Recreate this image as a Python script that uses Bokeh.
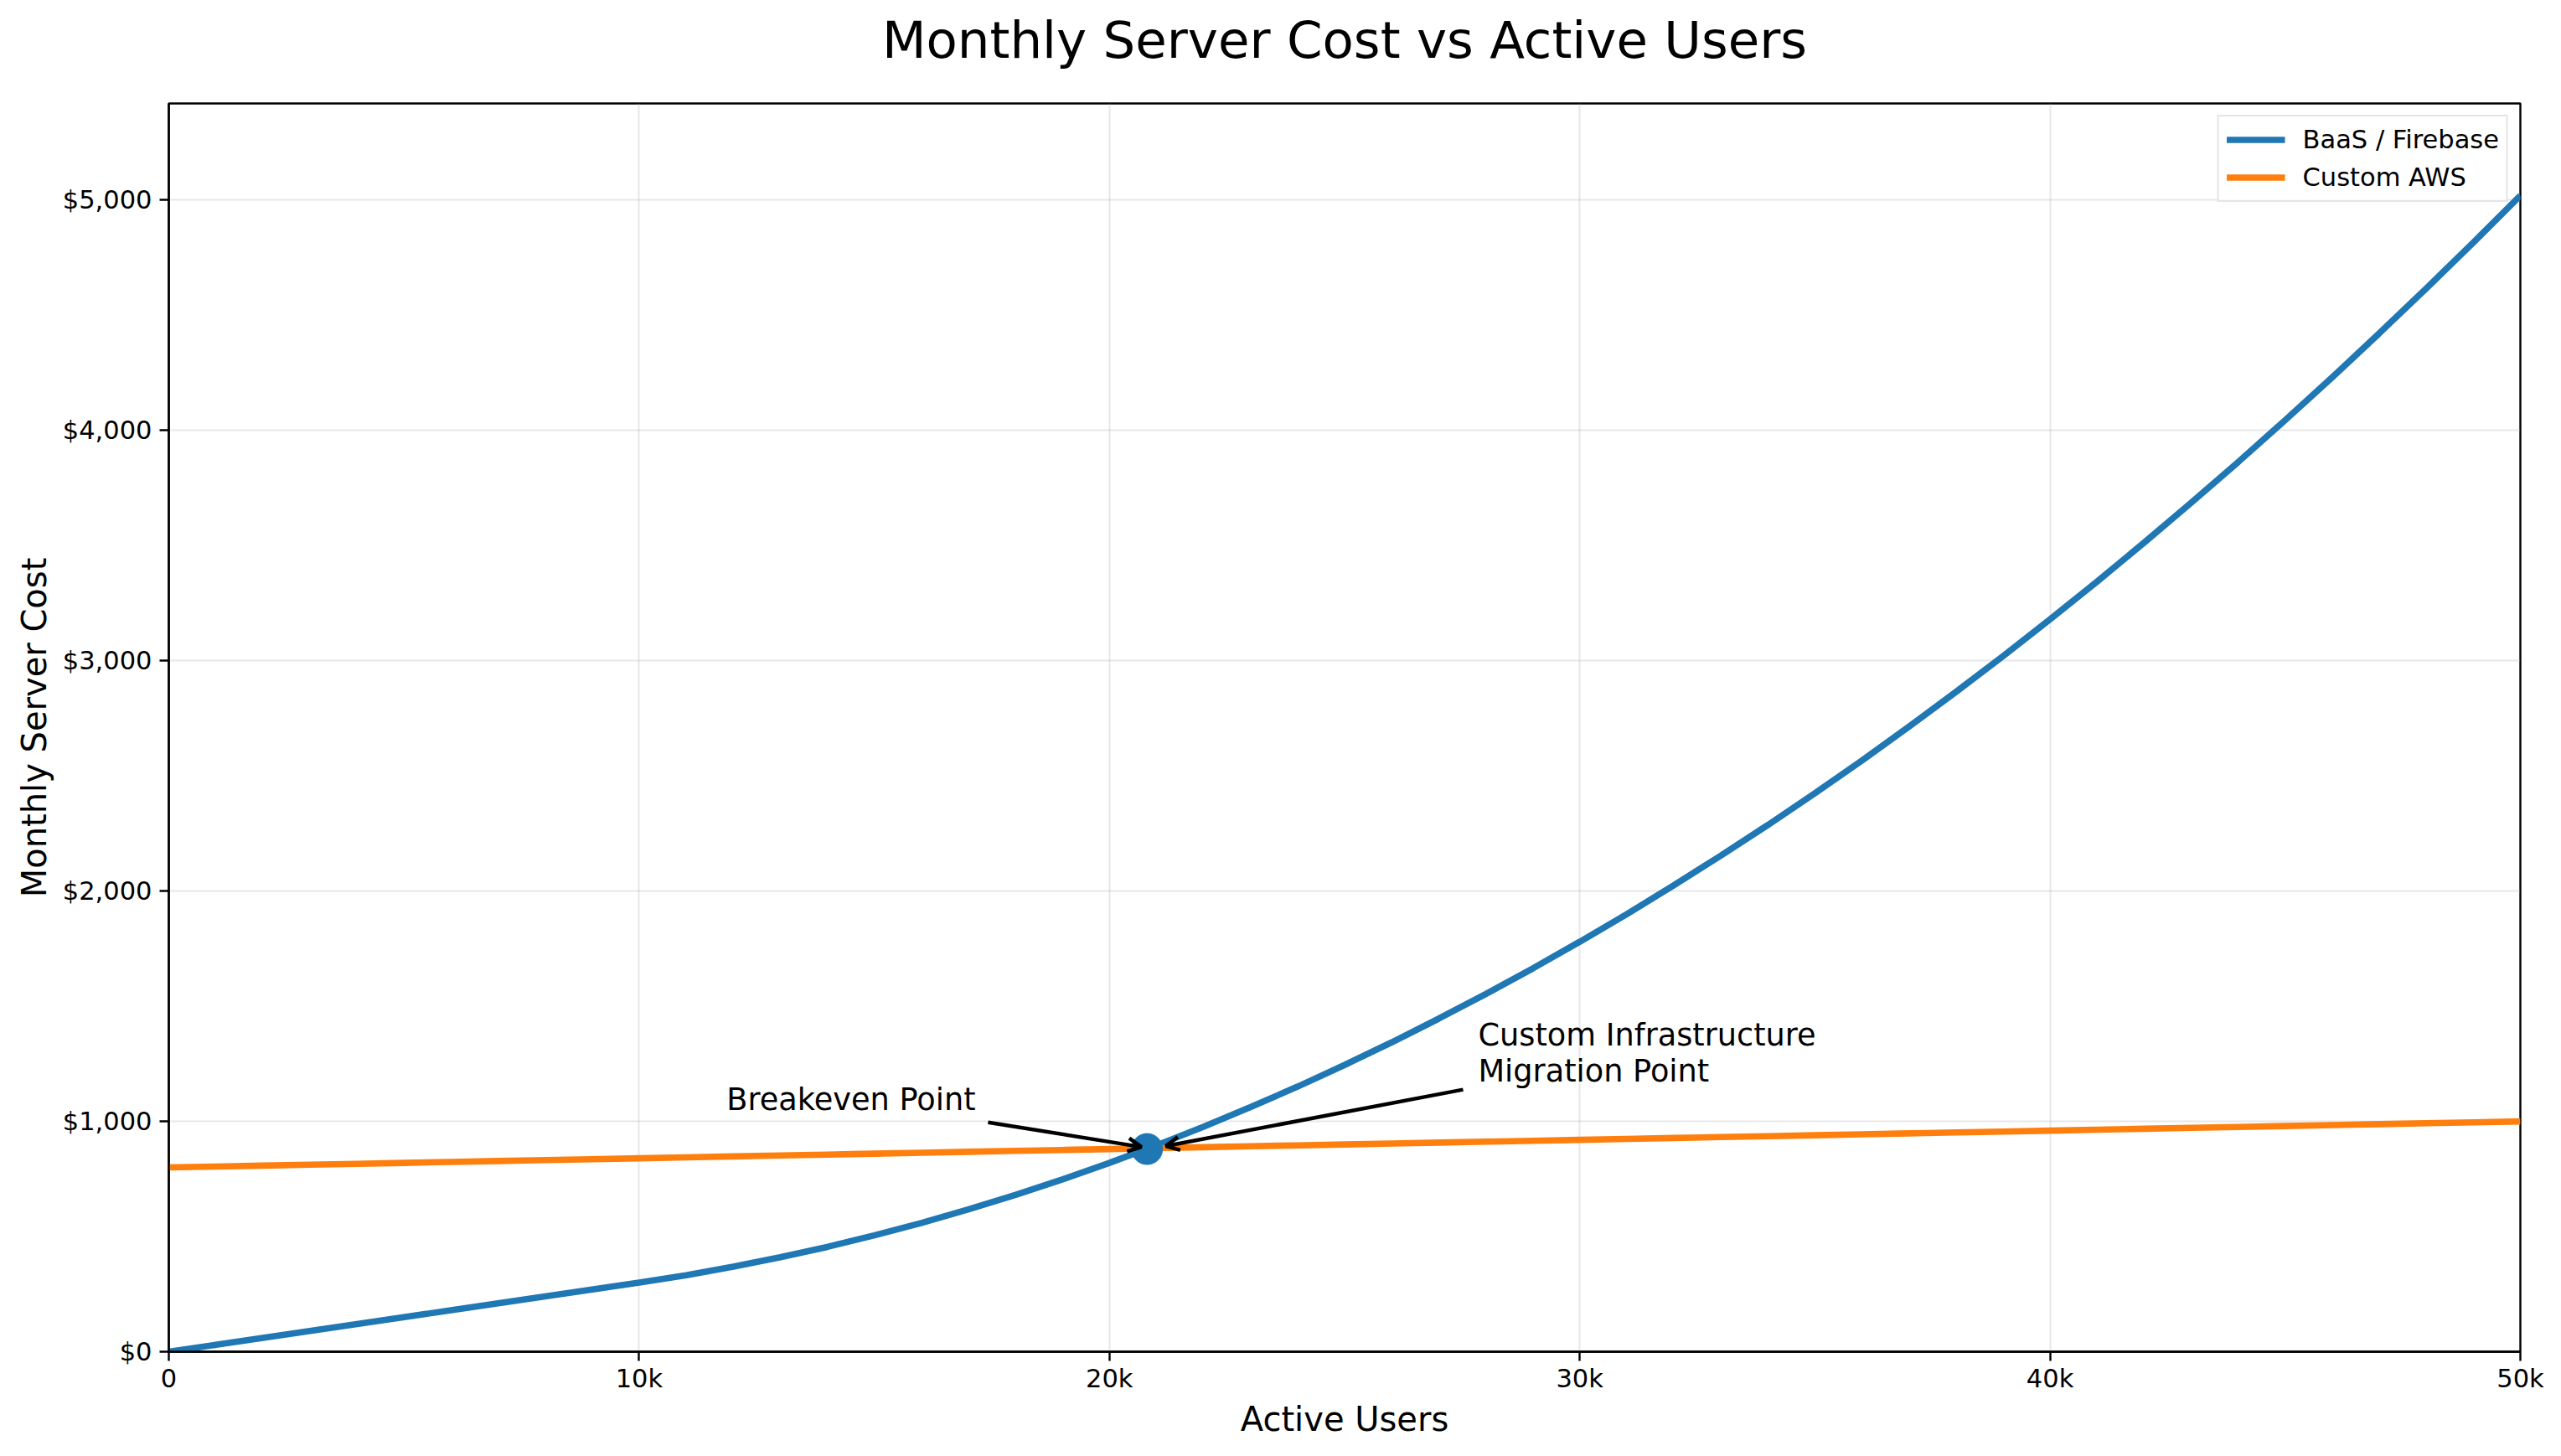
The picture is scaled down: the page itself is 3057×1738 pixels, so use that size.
from bokeh.plotting import figure
from bokeh.models import Range1d, FixedTicker, Arrow, OpenHead, Legend, LegendItem, ColumnDataSource, Title
from bokeh.core.properties import value
from bokeh.embed import file_html
from bokeh.resources import INLINE

# ---------------- data ----------------
users = list(range(0, 50001, 1000))
baas_cost = [0, 30, 60, 90, 120, 150, 180, 210, 240, 270,
             300, 332, 369, 410, 455, 505, 559, 618, 681, 748,
             820, 896, 977, 1062, 1151, 1245, 1343, 1446, 1553, 1664,
             1780, 1900, 2025, 2154, 2287, 2425, 2567, 2714, 2865, 3020,
             3180, 3344, 3513, 3686, 3863, 4045, 4231, 4422, 4617, 4816,
             5020]
aws_cost = [800, 804, 808, 812, 816, 820, 824, 828, 832, 836,
            840, 844, 848, 852, 856, 860, 864, 868, 872, 876,
            880, 884, 888, 892, 896, 900, 904, 908, 912, 916,
            920, 924, 928, 932, 936, 940, 944, 948, 952, 956,
            960, 964, 968, 972, 976, 980, 984, 988, 992, 996,
            1000]

series_names = ["BaaS / Firebase", "Custom AWS"]

breakeven_x = [20800]
breakeven_y = [880]

x_ticks = [0, 10000, 20000, 30000, 40000, 50000]
x_tick_labels = ["0", "10k", "20k", "30k", "40k", "50k"]
y_ticks = [0, 1000, 2000, 3000, 4000, 5000]
y_tick_labels = ["$0", "$1,000", "$2,000", "$3,000", "$4,000", "$5,000"]

# annotations: text anchor (left, baseline) and arrow start/end
ann_texts = ["Breakeven Point", "Custom Infrastructure", "Migration Point"]
ann_text_x = [11860, 27840, 27840]
ann_text_y = [1096, 1375, 1220]
arrow_x_start = [17420, 27520]
arrow_y_start = [996, 1138]
arrow_x_end = [20680, 21200]
arrow_y_end = [889, 893]

title_text = "Monthly Server Cost vs Active Users"
x_label = "Active Users"
y_label = "Monthly Server Cost"

# ---------------- styling ----------------
FONT = "DejaVu Sans"
BLUE = "#1f77b4"
ORANGE = "#ff7f0e"
X_MAX = 50000
Y_MAX = 5420

p = figure(width=3041, height=1722, output_backend="svg", toolbar_location=None,
           x_range=Range1d(0, X_MAX), y_range=Range1d(0, Y_MAX),
           min_border_left=201, min_border_right=33, min_border_top=123,
           min_border_bottom=109, background_fill_color="white",
           border_fill_color="white")

p.title.text = title_text
p.title.align = "center"
p.title.vertical_align = "bottom"
p.title.text_font = FONT
p.title.text_font_size = "61px"
p.title.text_font_style = "normal"
p.title.text_color = "black"
p.title.standoff = 4

# blank spacer between the title and the frame
p.add_layout(Title(text=" ", text_font_size="1px", standoff=36), "above")

p.outline_line_color = "black"
p.outline_line_width = 2.4
p.outline_line_alpha = 1.0

for ax in (p.xaxis[0], p.yaxis[0]):
    ax.axis_line_color = "black"
    ax.axis_line_width = 2.4
    ax.major_tick_line_color = "black"
    ax.major_tick_line_width = 2.4
    ax.major_tick_out = 11
    ax.major_tick_in = 0
    ax.minor_tick_line_color = None
    ax.major_label_text_font = FONT
    ax.major_label_text_font_size = "30.5px"
    ax.major_label_text_color = "black"
    ax.axis_label_text_font = FONT
    ax.axis_label_text_font_size = "40px"
    ax.axis_label_text_font_style = "normal"
    ax.axis_label_text_color = "black"

p.xaxis.major_label_standoff = 3
p.yaxis.major_label_standoff = 9
p.xaxis.axis_label_standoff = 5
p.yaxis.axis_label_standoff = 8

p.xaxis.ticker = FixedTicker(ticks=x_ticks)
p.yaxis.ticker = FixedTicker(ticks=y_ticks)
p.xaxis.major_label_overrides = {t: l for t, l in zip(x_ticks, x_tick_labels)}
p.yaxis.major_label_overrides = {t: l for t, l in zip(y_ticks, y_tick_labels)}
p.xaxis.axis_label = x_label
p.yaxis.axis_label = y_label

for g in (p.xgrid[0], p.ygrid[0]):
    g.grid_line_color = "#b0b0b0"
    g.grid_line_alpha = 0.3
    g.grid_line_width = 2

src = ColumnDataSource(dict(users=users, baas=baas_cost, aws=aws_cost))
r_baas = p.line("users", "baas", source=src, line_color=BLUE, line_width=7.6)
r_aws = p.line("users", "aws", source=src, line_color=ORANGE, line_width=7.6)

p.scatter(breakeven_x, breakeven_y, size=37, marker="circle",
          fill_color=BLUE, line_color=BLUE)

for xs, ys, xe, ye in zip(arrow_x_start, arrow_y_start, arrow_x_end, arrow_y_end):
    p.add_layout(Arrow(end=OpenHead(size=16, line_width=4.5, line_color="black"),
                       x_start=xs, y_start=ys, x_end=xe, y_end=ye,
                       line_width=4.5, line_color="black"))

asrc = ColumnDataSource(dict(x=ann_text_x, y=ann_text_y, t=ann_texts))
p.text("x", "y", text="t", source=asrc, text_font=value(FONT),
       text_font_size="36.7px", text_color="black", text_align="left",
       text_baseline="alphabetic")

legend = Legend(items=[LegendItem(label=series_names[0], renderers=[r_baas]),
                       LegendItem(label=series_names[1], renderers=[r_aws])],
                location="top_right", margin=14, padding=9, spacing=8,
                glyph_width=70, glyph_height=37, label_height=37,
                label_standoff=21, label_text_font=FONT,
                label_text_font_size="30.5px", label_text_color="black",
                border_line_color="#cccccc", border_line_width=2,
                background_fill_color="white", background_fill_alpha=0.8)
p.add_layout(legend, "center")

open("out.html", "w").write(file_html(p, INLINE))
